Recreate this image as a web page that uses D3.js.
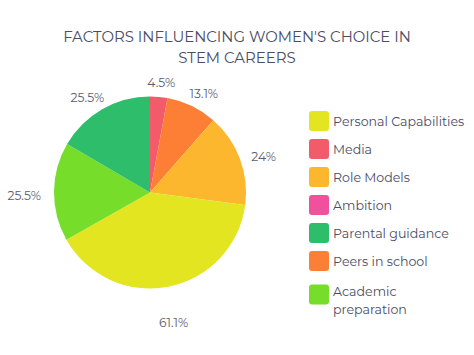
<!DOCTYPE html>
<html>
<head>
<meta charset="utf-8">
<script src="https://cdn.jsdelivr.net/npm/d3@7"></script>
<style>
  html, body { margin: 0; padding: 0; background: #ffffff; }
  svg { display: block; }
</style>
</head>
<body>
<svg id="chart" width="474" height="355"></svg>
<script>
// ---- data ----
const titleLines = ["FACTORS INFLUENCING WOMEN'S CHOICE IN", "STEM CAREERS"];
const categories = ["Personal Capabilities", "Media", "Role Models", "Ambition", "Parental guidance", "Peers in school", "Academic preparation"];
const values = [61.1, 4.5, 24, 0, 25.5, 13.1, 25.5];
const colors = ["#e3e521", "#f45b6a", "#fcb72f", "#f0509c", "#2ebd6b", "#fd7f35", "#76dd2b"];
const sliceOrder = ["Media", "Peers in school", "Role Models", "Personal Capabilities", "Academic preparation", "Parental guidance"];
const legendLines = [["Personal Capabilities"], ["Media"], ["Role Models"], ["Ambition"], ["Parental guidance"], ["Peers in school"], ["Academic", "preparation"]];

// ---- layout ----
const svg = d3.select("#chart");
const font = "Montserrat, 'Noto Sans', 'Open Sans', sans-serif";
const textColor = "#4b4c63";
const cx = 150, cy = 192.5, r = 96;

// title
const title = svg.append("g");
titleLines.forEach((t, i) => {
  title.append("text")
    .attr("x", 237).attr("y", 42 + i * 21)
    .attr("text-anchor", "middle")
    .attr("font-family", font)
    .attr("font-size", 16)
    .attr("fill", textColor)
    .text(t);
});
// fit first line width to ~348px
const t0 = title.select("text").node();
const w0 = t0.getComputedTextLength();
const fs = 16 * 348 / w0;
title.selectAll("text").attr("font-size", Math.min(fs, 18));

// pie
const data = sliceOrder.map(name => {
  const i = categories.indexOf(name);
  return { name, value: values[i], color: colors[i] };
});
const pie = d3.pie().sort(null).value(d => d.value);
const arcs = pie(data);
const arc = d3.arc().innerRadius(0).outerRadius(r);
const g = svg.append("g").attr("transform", `translate(${cx},${cy})`);
g.selectAll("path").data(arcs).join("path")
  .attr("d", arc)
  .attr("fill", d => d.data.color);

// labels
const labelR = 109;
arcs.forEach(a => {
  const m = (a.startAngle + a.endAngle) / 2;
  const s = Math.sin(m), c = Math.cos(m);
  const txt = g.append("text")
    .attr("font-family", font)
    .attr("font-size", 12.3)
    .attr("fill", "#5c5d70")
    .attr("text-anchor", "middle")
    .attr("dominant-baseline", "central")
    .text(d3.format("")(a.data.value) + "%");
  const hw = txt.node().getComputedTextLength() / 2;
  const x = labelR * s + s * hw;
  const y = -labelR * c - c * 5 + 4 + (c < 0 ? -c * 14 : 0);
  txt.attr("x", x).attr("y", y);
});

// legend
const lg = svg.append("g").attr("transform", "translate(309,111)");
let yPos = 0;
categories.forEach((name, i) => {
  const lines = legendLines[i];
  const item = lg.append("g").attr("transform", `translate(0,${yPos})`);
  item.append("rect")
    .attr("width", 20).attr("height", 20)
    .attr("rx", 3)
    .attr("fill", colors[i]);
  const t = item.append("text")
    .attr("font-family", font)
    .attr("font-size", 12.6)
    .attr("fill", textColor);
  lines.forEach((ln, j) => {
    t.append("tspan")
      .attr("x", 24)
      .attr("y", lines.length === 1 ? 10 : 7 + j * 17.7)
      .attr("dominant-baseline", "central")
      .text(ln);
  });
  yPos += (i === categories.length - 2) ? 33.5 : 28;
});
</script>
</body>
</html>
